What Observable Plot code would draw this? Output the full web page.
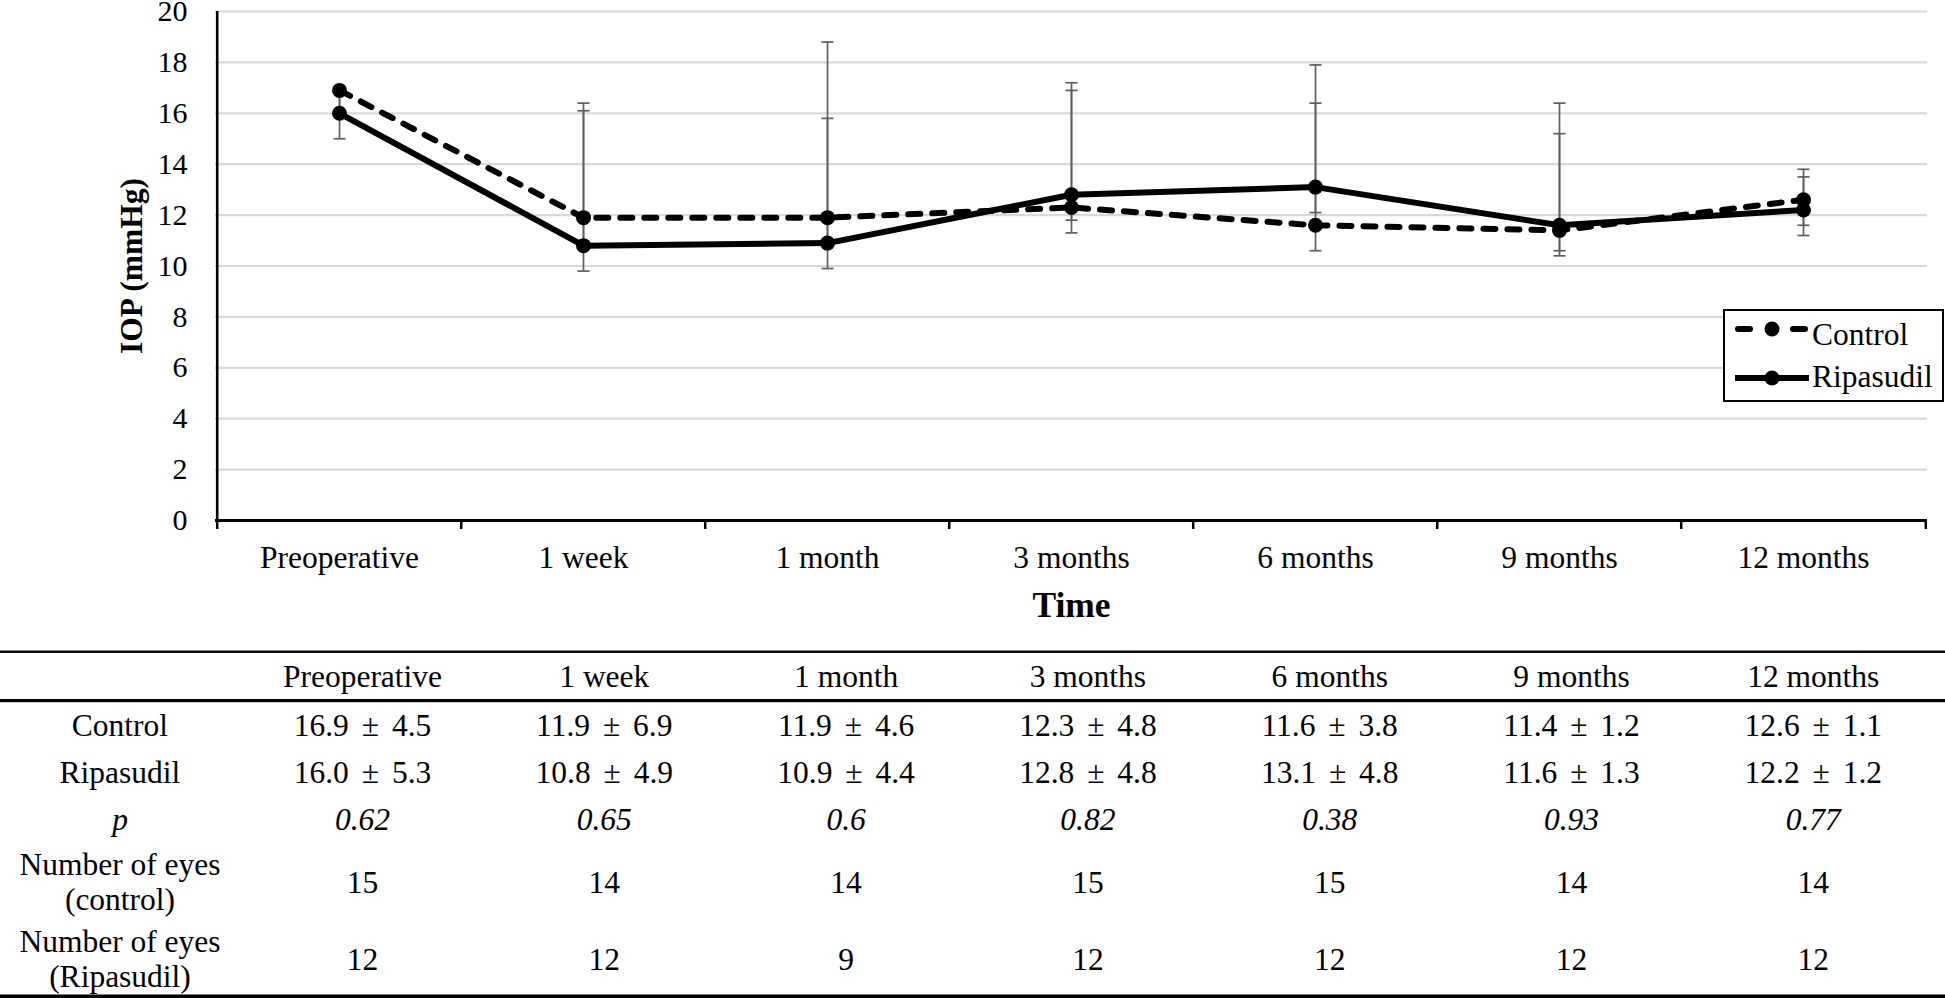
<!DOCTYPE html>
<html>
<head>
<meta charset="utf-8">
<script src="https://cdn.jsdelivr.net/npm/d3@7"></script>
<script src="https://cdn.jsdelivr.net/npm/@observablehq/plot@0.6"></script>
<style>
  html, body { margin: 0; padding: 0; background: #fff; }
  #root { position: relative; width: 1945px; height: 998px; overflow: hidden;
          font-family: "Liberation Serif", "Times New Roman", serif; color: #000; }
  #chart { position: absolute; left: 0; top: 0; }
  #legend { position: absolute; left: 1723px; top: 309px; }
  #table { position: absolute; left: 0; top: 640px; }
</style>
</head>
<body>
<div id="root">
  <div id="chart"></div>
  <div id="legend"></div>
  <div id="table"></div>
</div>
<script>
// ---------------- data ----------------
const timepoints = ["Preoperative", "1 week", "1 month", "3 months", "6 months", "9 months", "12 months"];
const seriesNames = ["Control", "Ripasudil"];
const controlMean = [16.9, 11.9, 11.9, 12.3, 11.6, 11.4, 12.6];
const ripasudilMean = [16.0, 10.8, 10.9, 12.8, 13.1, 11.6, 12.2];
const controlSD = ["4.5", "6.9", "4.6", "4.8", "3.8", "1.2", "1.1"];
const ripasudilSD = ["5.3", "4.9", "4.4", "4.8", "4.8", "1.3", "1.2"];
// error-bar ends as they are drawn in the figure
const controlBarHigh = [16.9, 16.4, 18.8, 16.9, 16.4, 15.2, 13.8];
const controlBarLow = [15.9, 10.9, 10.9, 11.3, 10.6, 10.4, 11.6];
const ripasudilBarHigh = [17.0, 16.1, 15.8, 17.2, 17.9, 16.4, 13.5];
const ripasudilBarLow = [15.0, 9.8, 9.9, 11.8, 12.1, 10.6, 11.2];
const pValues = ["0.62", "0.65", "0.6", "0.82", "0.38", "0.93", "0.77"];
const eyesControl = ["15", "14", "14", "15", "15", "14", "14"];
const eyesRipasudil = ["12", "12", "9", "12", "12", "12", "12"];
const yTicks = [0, 2, 4, 6, 8, 10, 12, 14, 16, 18, 20];

// ---------------- chart ----------------
const FONT = '"Liberation Serif", "Times New Roman", serif';
const W = 1945, H = 640, mL = 215, mR = 18, mT = 11, mB = H - 520;
const step = (W - mL - mR) / timepoints.length;

const rows = [];
timepoints.forEach((t, i) => {
  rows.push({t, series: "Control", mean: controlMean[i], hi: controlBarHigh[i], lo: controlBarLow[i]});
  rows.push({t, series: "Ripasudil", mean: ripasudilMean[i], hi: ripasudilBarHigh[i], lo: ripasudilBarLow[i]});
});
const ctrl = rows.filter(d => d.series === "Control");
const rip = rows.filter(d => d.series === "Ripasudil");
const barColor = "#5e5e5e";
// horizontal cap symbol for error bars
const capSymbol = {draw(context) { context.moveTo(-6, 0); context.lineTo(6, 0); }};

const chart = Plot.plot({
  width: W, height: H,
  marginLeft: mL, marginRight: mR, marginTop: mT, marginBottom: mB,
  style: {fontFamily: FONT, fontSize: "30px", color: "#000", background: "transparent", overflow: "visible"},
  x: {type: "point", domain: timepoints, padding: 0.5, align: 0.5, label: null},
  y: {domain: [0, 20], label: null},
  marks: [
    Plot.ruleY(yTicks.filter(v => v > 0), {stroke: "#d9d9d9", strokeWidth: 2.2}),
    Plot.axisY(yTicks, {tickSize: 0, tickPadding: 28, fontSize: 30, label: null}),
    Plot.axisX(timepoints, {tickSize: 0, tickPadding: 25, fontSize: 31.5, label: null}),
    Plot.axisX(timepoints, {tickSize: 9, tickFormat: () => "", dx: -step / 2, label: null, stroke: "#000", strokeWidth: 2.5}),
    Plot.axisX([timepoints[timepoints.length - 1]], {tickSize: 9, tickFormat: () => "", dx: step / 2, label: null, stroke: "#000", strokeWidth: 2.5}),
    Plot.ruleX([timepoints[0]], {dx: -step / 2, y1: 0, y2: 20, stroke: "#000", strokeWidth: 2.6}),
    Plot.ruleY([0], {stroke: "#000", strokeWidth: 2.8}),
    // error bars
    Plot.ruleX(rows, {x: "t", y1: "lo", y2: "hi", stroke: barColor, strokeWidth: 1.7}),
    Plot.dot(rows, {x: "t", y: "hi", symbol: capSymbol, r: 6, fill: "none", stroke: barColor, strokeWidth: 1.7}),
    Plot.dot(rows, {x: "t", y: "lo", symbol: capSymbol, r: 6, fill: "none", stroke: barColor, strokeWidth: 1.7}),
    // series
    Plot.line(ctrl, {x: "t", y: "mean", stroke: "#000", strokeWidth: 6, strokeDasharray: "12,12", strokeLinecap: "round"}),
    Plot.dot(ctrl, {x: "t", y: "mean", r: 7.5, fill: "#000"}),
    Plot.line(rip, {x: "t", y: "mean", stroke: "#000", strokeWidth: 6}),
    Plot.dot(rip, {x: "t", y: "mean", r: 7.5, fill: "#000"}),
    // axis titles
    Plot.text(["IOP (mmHg)"], {text: d => d, frameAnchor: "left", textAnchor: "middle", lineAnchor: "middle", dx: -84, rotate: -90, fontSize: 31.5, fontWeight: "bold", fill: "#000"}),
    Plot.text(["Time"], {text: d => d, frameAnchor: "bottom", textAnchor: "middle", lineAnchor: "middle", dy: 85, fontSize: 35.5, fontWeight: "bold", fill: "#000"})
  ]
});
document.getElementById("chart").appendChild(chart);

// ---------------- legend ----------------
const lg = d3.select("#legend").append("svg").attr("width", 222).attr("height", 94)
  .style("font-family", FONT).style("overflow", "visible");
lg.append("rect").attr("x", 1).attr("y", 1).attr("width", 219).attr("height", 91)
  .attr("fill", "#fff").attr("stroke", "#000").attr("stroke-width", 2);
const legendRows = [
  {name: seriesNames[0], dashed: true, ly: 20, ty: 36},
  {name: seriesNames[1], dashed: false, ly: 69, ty: 78}
];
legendRows.forEach(r => {
  if (r.dashed) {
    lg.append("line").attr("x1", 15).attr("x2", 27).attr("y1", r.ly).attr("y2", r.ly)
      .attr("stroke", "#000").attr("stroke-width", 6).attr("stroke-linecap", "round");
    lg.append("line").attr("x1", 70).attr("x2", 82).attr("y1", r.ly).attr("y2", r.ly)
      .attr("stroke", "#000").attr("stroke-width", 6).attr("stroke-linecap", "round");
  } else {
    lg.append("line").attr("x1", 12).attr("x2", 86).attr("y1", r.ly).attr("y2", r.ly)
      .attr("stroke", "#000").attr("stroke-width", 6);
  }
  lg.append("circle").attr("cx", 49).attr("cy", r.ly).attr("r", 7.5).attr("fill", "#000");
  lg.append("text").attr("x", 89).attr("y", r.ty).attr("font-size", 31.5).attr("fill", "#000").text(r.name);
});

// ---------------- table ----------------
const T0 = 640;
const tb = d3.select("#table").append("svg").attr("width", 1945).attr("height", 998 - T0)
  .style("font-family", FONT);
const colX = timepoints.map((_, i) => 362.5 + i * 241.8);
const labelX = 120;
const fs = 31.5;
// rules
tb.append("rect").attr("x", 0).attr("y", 650.5 - T0).attr("width", 1945).attr("height", 2.4).attr("fill", "#000");
tb.append("rect").attr("x", 0).attr("y", 699 - T0).attr("width", 1945).attr("height", 3.2).attr("fill", "#000");
tb.append("rect").attr("x", 0).attr("y", 994.5 - T0).attr("width", 1945).attr("height", 3.5).attr("fill", "#000");

function txt(x, y, s, italic, wordSpacing) {
  const t = tb.append("text").attr("x", x).attr("y", y - T0).attr("text-anchor", "middle")
    .attr("font-size", fs).attr("fill", "#000")
    .attr("font-style", italic ? "italic" : "normal").text(s);
  if (wordSpacing) t.attr("word-spacing", wordSpacing);
}
timepoints.forEach((t, i) => {
  txt(colX[i], 686.7, t);
  txt(colX[i], 736, controlMean[i].toFixed(1) + " \u00b1 " + controlSD[i], false, 5);
  txt(colX[i], 783, ripasudilMean[i].toFixed(1) + " \u00b1 " + ripasudilSD[i], false, 5);
  txt(colX[i], 830, pValues[i], true);
  txt(colX[i], 892.7, eyesControl[i]);
  txt(colX[i], 970, eyesRipasudil[i]);
});
txt(labelX, 736, "Control");
txt(labelX, 783, "Ripasudil");
txt(labelX, 830, "p", true);
txt(labelX, 875, "Number of eyes");
txt(labelX, 910, "(control)");
txt(labelX, 951.7, "Number of eyes");
txt(labelX, 986.7, "(Ripasudil)");
</script>
</body>
</html>
